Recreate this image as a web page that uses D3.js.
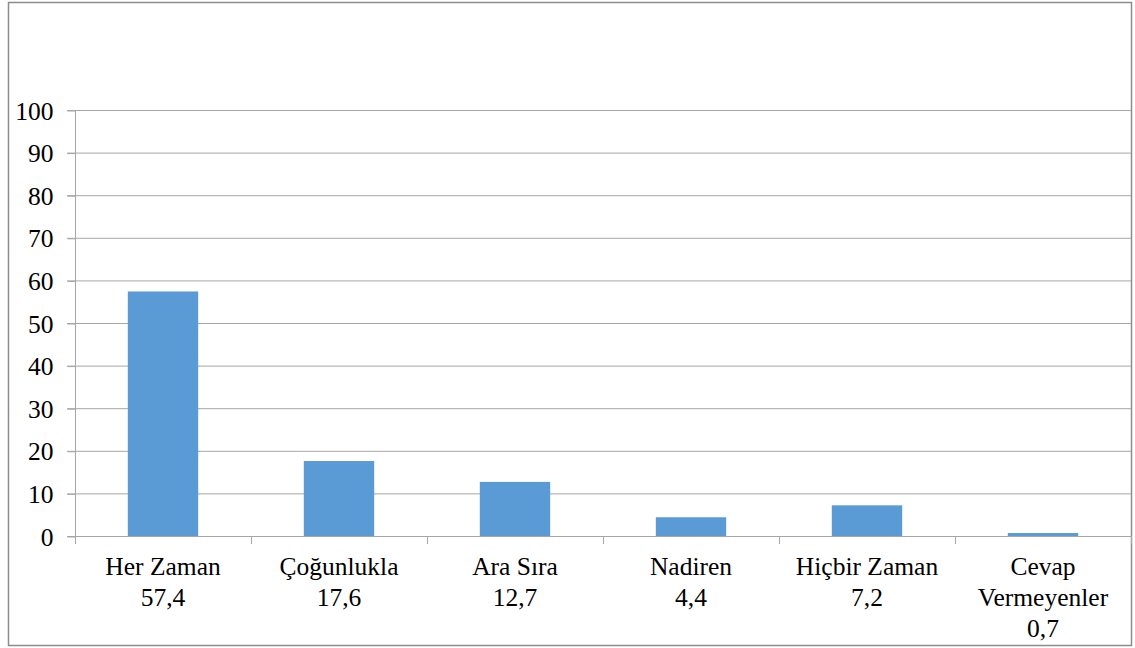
<!DOCTYPE html>
<html>
<head>
<meta charset="utf-8">
<script src="https://cdn.jsdelivr.net/npm/d3@7"></script>
<style>
body { margin: 0; background: #fff; }
</style>
</head>
<body>
<svg id="chart" width="1135" height="648"></svg>
<script>
'use strict'

const categories = [["Her Zaman"], ["Çoğunlukla"], ["Ara Sıra"], ["Nadiren"], ["Hiçbir Zaman"], ["Cevap", "Vermeyenler"]]
const valueLabels = ["57,4", "17,6", "12,7", "4,4", "7,2", "0,7"]
const values = [57.4, 17.6, 12.7, 4.4, 7.2, 0.7]
const yTicks = [0, 10, 20, 30, 40, 50, 60, 70, 80, 90, 100]

const fontName = "Liberation Serif"
const fontSize = 25.5
const svg = d3.select("#chart")
const plotLeft = 75, plotRight = 1131, plotTop = 110, plotBottom = 536

// outer frame
svg.append("rect")
	.attr("x", 8.5).attr("y", 2.5)
	.attr("width", 1123).attr("height", 643)
	.attr("fill", "none").attr("stroke", "#8c8c8c").attr("stroke-width", 1.5)

let x = d3.scaleBand()
	.domain(d3.range(categories.length))
	.range([plotLeft, plotRight])
	.paddingInner(0.6).paddingOuter(0.3)

let xb = d3.scaleBand().domain(d3.range(categories.length)).range([plotLeft, plotRight])

let y = d3.scaleLinear().domain([0, 100]).range([plotBottom, plotTop])

// gridlines
svg.append("g").selectAll("line").data(yTicks.filter(d => d > 0)).join("line")
	.attr("x1", plotLeft - 8).attr("x2", plotRight)
	.attr("y1", d => y(d) + 0.5).attr("y2", d => y(d) + 0.5)
	.attr("stroke", "#a6a6a6").attr("stroke-width", 1)

// bars
svg.append("g").selectAll("rect").data(values).join("rect")
	.attr("x", (d, i) => x(i))
	.attr("width", x.bandwidth())
	.attr("y", d => y(d))
	.attr("height", d => plotBottom - y(d))
	.attr("fill", "#5b9bd5")

// y axis
let yAxis = d3.axisLeft(y).tickValues(yTicks).tickSize(8).tickPadding(14).tickFormat(d3.format("d"))
let gy = svg.append("g").attr("transform", "translate(" + (plotLeft + 0.5) + ",0.5)").call(yAxis)
gy.attr("font-family", fontName).attr("font-size", fontSize)
gy.select(".domain").attr("stroke", "#a6a6a6").attr("d", "M0," + plotTop + "V" + plotBottom)
gy.selectAll(".tick line").attr("stroke", "#a6a6a6")
gy.selectAll(".tick text").attr("fill", "#000").attr("dy", "0.34em")

// x axis line and ticks
svg.append("line")
	.attr("x1", plotLeft - 8).attr("x2", plotRight)
	.attr("y1", plotBottom + 0.5).attr("y2", plotBottom + 0.5)
	.attr("stroke", "#a6a6a6")
svg.append("g").selectAll("line").data(d3.range(categories.length + 1)).join("line")
	.attr("x1", i => (i < categories.length ? xb(i) : plotRight) + 0.5)
	.attr("x2", i => (i < categories.length ? xb(i) : plotRight) + 0.5)
	.attr("y1", plotBottom).attr("y2", plotBottom + 8)
	.attr("stroke", "#a6a6a6")

// category labels
let lbl = svg.append("g")
	.selectAll("text").data(categories).join("text")
	.attr("font-family", fontName).attr("font-size", fontSize)
	.attr("text-anchor", "middle")
	.attr("x", (d, i) => xb(i) + xb.bandwidth() / 2)
	.attr("y", 575)
lbl.each(function(d, i){
	let t = d3.select(this)
	d.concat([valueLabels[i]]).forEach(function(line, k){
		t.append("tspan").attr("x", xb(i) + xb.bandwidth() / 2).attr("dy", k == 0 ? 0 : 31).text(line)
	})
})
</script>
</body>
</html>
